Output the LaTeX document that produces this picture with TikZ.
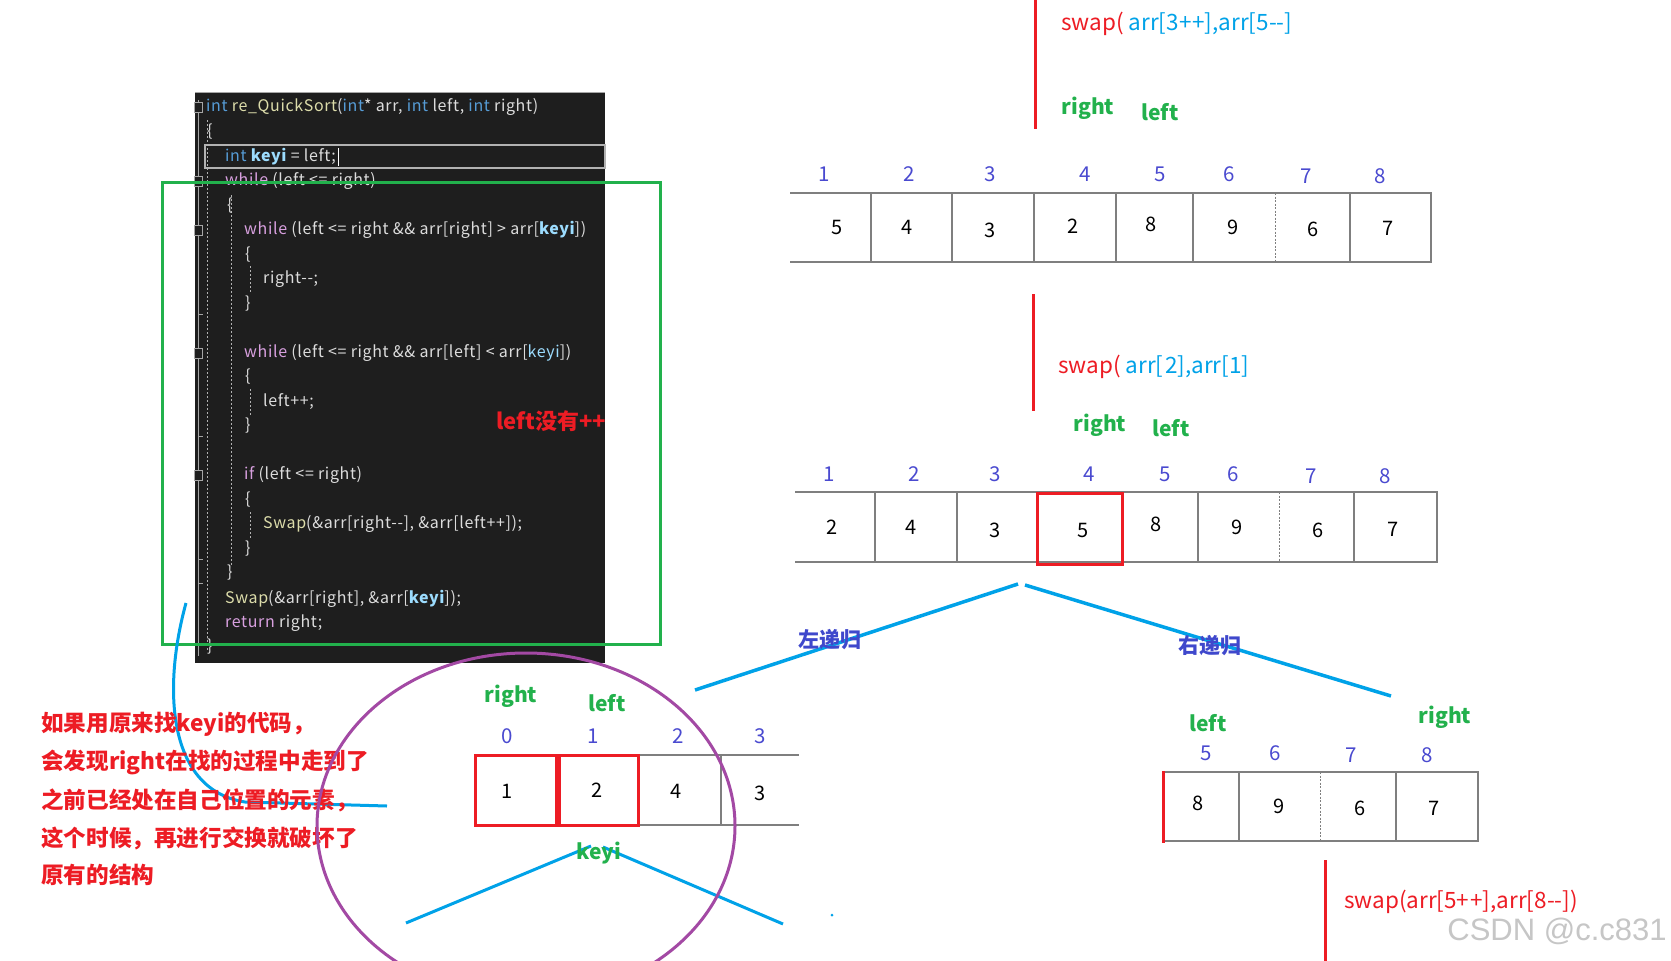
\documentclass[tikz,border=0pt]{standalone}
\usepackage{fontspec}
\setmainfont{Noto Sans CJK SC}
\newfontfamily\wmfont{Liberation Sans}
\newfontfamily\codefont{Noto Sans CJK SC}[LetterSpace=4]
\definecolor{cred}{HTML}{ED1C24}
\definecolor{cgreen}{HTML}{22B14C}
\definecolor{ccyan}{HTML}{00A2E8}
\definecolor{cidx}{HTML}{4A4AD0}
\definecolor{cdark}{HTML}{3F48CC}
\definecolor{cpurple}{HTML}{A349A4}
\definecolor{cbg}{HTML}{1E1E1E}
\definecolor{ckw}{HTML}{569CD6}
\definecolor{cctl}{HTML}{D8A0DF}
\definecolor{cfn}{HTML}{DCDCAA}
\definecolor{cvar}{HTML}{9CDCFE}
\definecolor{ctxt}{HTML}{DCDCDC}
\definecolor{cgrid}{HTML}{7F7F7F}
\newcommand{\kw}[1]{\textcolor{ckw}{#1}}
\newcommand{\ctl}[1]{\textcolor{cctl}{#1}}
\newcommand{\fn}[1]{\textcolor{cfn}{#1}}
\newcommand{\kv}{\textcolor{cvar}{\bfseries keyi}}
\tikzset{
  code/.style={anchor=west, inner sep=0pt, text=ctxt, font=\codefont\fontsize{16}{16}\selectfont},
  idx/.style={inner sep=0pt, text=cidx, font=\fontsize{20.5}{20}\selectfont},
  val/.style={inner sep=0pt, text=black, font=\fontsize{20}{20}\selectfont},
  ptr/.style={inner sep=0pt, text=cgreen, font=\fontsize{21}{21}\selectfont\bfseries},
  grid/.style={draw=cgrid, line width=1.5pt},
  redbox/.style={draw=cred, line width=3pt},
  redline/.style={draw=cred, line width=3pt},
  blueline/.style={draw=ccyan, line width=3.5pt},
  swaptxt/.style={anchor=west, inner sep=0pt, font=\fontsize{22.5}{23}\selectfont},
  rec/.style={inner sep=0pt, text=cdark, font=\fontsize{21}{21}\selectfont\bfseries},
  note/.style={anchor=west, inner sep=0pt, text=cred, font=\fontsize{22.6}{23}\selectfont\bfseries},
}
\begin{document}
\begin{tikzpicture}[x=1pt,y=-1pt]
\useasboundingbox[fill=white] (0,0) rectangle (1671,961);

% ---------------- code panel ----------------
\fill[cbg] (195,92) rectangle (605,663);
\draw[gray!70, line width=0.8pt] (195,92) -- (605,92);
\draw[gray!60, line width=1.2pt] (205,145) rectangle (605,168);
\draw[gray!70, line width=1pt] (198,100) -- (198,656);
\draw[gray!60, line width=1pt, dash pattern=on 2pt off 2pt] (207,120) -- (207,652);
\draw[gray!60, line width=1pt, dash pattern=on 2pt off 2pt] (231,195) -- (231,566);
\foreach \a/\b in {266/292, 389/415, 512/538}
  \draw[gray!60, line width=1pt, dash pattern=on 2pt off 2pt] (250,\a) -- (250,\b);
\foreach \y in {107,181,230,353,475}
  \draw[gray!70, fill=cbg, line width=0.8pt] (194,\y-5) rectangle (202,\y+5);
\foreach \y in {314,436,559,583}
  \draw[gray!70, line width=0.8pt] (198,\y) -- (203,\y);

\node[code] (c1)  at (206,107) {\kw{int}\ \fn{re\_QuickSort}(\kw{int}* arr, \kw{int} left, \kw{int} right)};
\node[code] (c2)  at (207,132) {\{};
\node[code] (c3)  at (225,157) {\kw{int} \kv{} = left;};
\draw[white, line width=1pt] (c3.east) ++(2,-9) -- ++(0,18);
\node[code] (c4)  at (225,181) {\ctl{while} (left <= right)};
\node[code] (c5)  at (227,206) {\{};
\node[code] (c6)  at (244,230) {\ctl{while} (left <= right \&\& arr[right] > arr[\kv])};
\node[code] (c7)  at (245,255) {\{};
\node[code] (c8)  at (263,279) {right-{}-;};
\node[code] (c9)  at (245,304) {\}};
\node[code] (c10) at (244,353) {\ctl{while} (left <= right \&\& arr[left] < arr[\textcolor{cvar}{keyi}])};
\node[code] (c11) at (245,377) {\{};
\node[code] (c12) at (263,402) {left++;};
\node[code] (c13) at (245,426) {\}};
\node[code] (c14) at (244,475) {\ctl{if} (left <= right)};
\node[code] (c15) at (245,500) {\{};
\node[code] (c16) at (263,524) {\fn{Swap}(\&arr[right-{}-], \&arr[left++]);};
\node[code] (c17) at (245,549) {\}};
\node[code] (c18) at (227,573) {\}};
\node[code] (c19) at (225,599) {\fn{Swap}(\&arr[right], \&arr[\kv]);};
\node[code] (c20) at (225,623) {\ctl{return} right;};
\node[code] (c21) at (207,647) {\}};

\node[note, font=\fontsize{22}{22}\selectfont\bfseries] (nleft) at (496,421) {left没有++};

% green frame
\draw[cgreen, line width=3pt] (162,182) rectangle (660,644);

% blue curve from code to note
\coordinate (bc0) at (186,603);
\coordinate (bc1) at (387,806);
\draw[blueline, line width=3pt] (bc0) .. controls (162,690) and (168,790) .. (245,802) -- (bc1);

% note text
\node[note] (n1) at (41,724) {如果用原来找keyi的代码，};
\node[note] (n2) at (41,762) {会发现right在找的过程中走到了};
\node[note] (n3) at (41,800) {之前已经处在自己位置的元素，};
\node[note] (n4) at (41,838) {这个时候，再进行交换就破坏了};
\node[note] (n5) at (41,875) {原有的结构};

% ---------------- top right ----------------
\coordinate (r1a) at (1035,0);
\coordinate (r1b) at (1035,129);
\draw[redline] (r1a) -- (r1b);
\node[swaptxt] (s1) at (1061,24) {\textcolor{cred}{swap(} \textcolor{ccyan}{arr[3+\kern1pt+],arr[5-{}-]}};
\node[ptr] (p1r) at (1088,108) {right};
\node[ptr] (p1l) at (1160,112) {left};

% array 1
\draw[grid] (790,193) -- (1431,193) -- (1431,262) -- (790,262);
\foreach \x in {871,952,1034,1116,1193,1350} \draw[grid] (\x,193) -- (\x,262);
\draw[grid, line width=1pt, dash pattern=on 2pt off 1.5pt] (1275,193) -- (1275,262);
\foreach \x/\y/\t [count=\i] in {824/174/1, 909/174/2, 990/174/3, 1085/174/4, 1160/174/5, 1229/174/6, 1306/176/7, 1380/176/8}
  \node[idx] (a1i\i) at (\x,\y) {\t};
\foreach \x/\y/\t [count=\i] in {837/227/5, 907/227/4, 990/230/3, 1073/226/2, 1151/224/8, 1233/227/9, 1313/229/6, 1388/228/7}
  \node[val] (a1v\i) at (\x,\y) {\t};

% second swap
\coordinate (r2a) at (1033,294);
\coordinate (r2b) at (1033,411);
\draw[redline] (r2a) -- (r2b);
\node[swaptxt] (s2) at (1058,367) {\textcolor{cred}{swap(} \textcolor{ccyan}{arr[\kern1.5pt 2],arr[1]}};
\node[ptr] (p2r) at (1100,425) {right};
\node[ptr] (p2l) at (1171,428) {left};

% array 2
\draw[grid] (795,492) -- (1437,492) -- (1437,562) -- (795,562);
\foreach \x in {875,957,1037,1122,1198,1354} \draw[grid] (\x,492) -- (\x,562);
\draw[grid, line width=1pt, dash pattern=on 2pt off 1.5pt] (1279,492) -- (1279,562);
\draw[redbox] (1037,493) rectangle (1122,564);
\foreach \x/\y/\t [count=\i] in {829/474/1, 914/474/2, 995/474/3, 1089/474/4, 1165/474/5, 1233/474/6, 1311/476/7, 1385/476/8}
  \node[idx] (a2i\i) at (\x,\y) {\t};
\foreach \x/\y/\t [count=\i] in {832/527/2, 911/527/4, 995/530/3, 1083/530/5, 1156/524/8, 1237/527/9, 1318/530/6, 1393/529/7}
  \node[val] (a2v\i) at (\x,\y) {\t};

% recursion lines
\coordinate (apexL) at (1018,584);
\coordinate (apexR) at (1025,585);
\coordinate (endL) at (695,690);
\coordinate (endR) at (1391,696);
\draw[blueline] (apexL) -- (endL);
\draw[blueline] (apexR) -- (endR);
\node[rec] (recl) at (830,640) {左递归};
\node[rec] (recr) at (1210,646) {右递归};

% ---------------- bottom left array ----------------
\draw[grid] (638,755) -- (799,755);
\draw[grid] (638,825) -- (799,825);
\draw[grid] (721,755) -- (721,825);
\draw[redbox] (475,755) rectangle (556,825);
\draw[redbox] (559,755) rectangle (638,825);
\node[ptr] (p3r) at (511,696) {right};
\node[ptr] (p3l) at (607,703) {left};
\foreach \x/\t [count=\i] in {507/0, 593/1, 678/2, 760/3}
  \node[idx] (a3i\i) at (\x,736) {\t};
\foreach \x/\y/\t [count=\i] in {507/791/1, 597/790/2, 676/791/4, 760/793/3}
  \node[val] (a3v\i) at (\x,\y) {\t};
\coordinate (kapL) at (591,846);
\coordinate (kapR) at (603,847);
\coordinate (kendL) at (406,923);
\coordinate (kendR) at (783,924);
\draw[blueline, line width=3pt] (kapL) -- (kendL);
\draw[blueline, line width=3pt] (kapR) -- (kendR);
\node[ptr] (keyi) at (599,853) {keyi};
\fill[ccyan] (832,915) circle (1.5);

% purple ellipse
\draw[cpurple, line width=3pt] (526,826) ellipse [x radius=209, y radius=173];

% ---------------- bottom right array ----------------
\node[ptr] (p4l) at (1208,723) {left};
\node[ptr] (p4r) at (1445,717) {right};
\draw[grid] (1163,772) -- (1478,772) -- (1478,841) -- (1163,841);
\foreach \x in {1239,1396} \draw[grid] (\x,772) -- (\x,841);
\draw[grid, line width=1pt, dash pattern=on 2pt off 1.5pt] (1320,772) -- (1320,841);
\draw[redline] (1163,771) -- (1163,843);
\foreach \x/\y/\t [count=\i] in {1206/753/5, 1275/753/6, 1351/755/7, 1427/755/8}
  \node[idx] (a4i\i) at (\x,\y) {\t};
\foreach \x/\y/\t [count=\i] in {1198/803/8, 1279/806/9, 1360/808/6, 1434/808/7}
  \node[val] (a4v\i) at (\x,\y) {\t};

\coordinate (r3a) at (1325,860);
\coordinate (r3b) at (1325,961);
\draw[redline] (r3a) -- (r3b);
\node[swaptxt, text=cred] (s3) at (1344,902) {swap(arr[5+\kern1pt+],arr[8-{}-])};

\node[inner sep=0pt, text=gray!45, font=\wmfont\fontsize{31}{31}\selectfont] (wm) at (1557,931) {CSDN @c.c831};
\end{tikzpicture}
\end{document}
